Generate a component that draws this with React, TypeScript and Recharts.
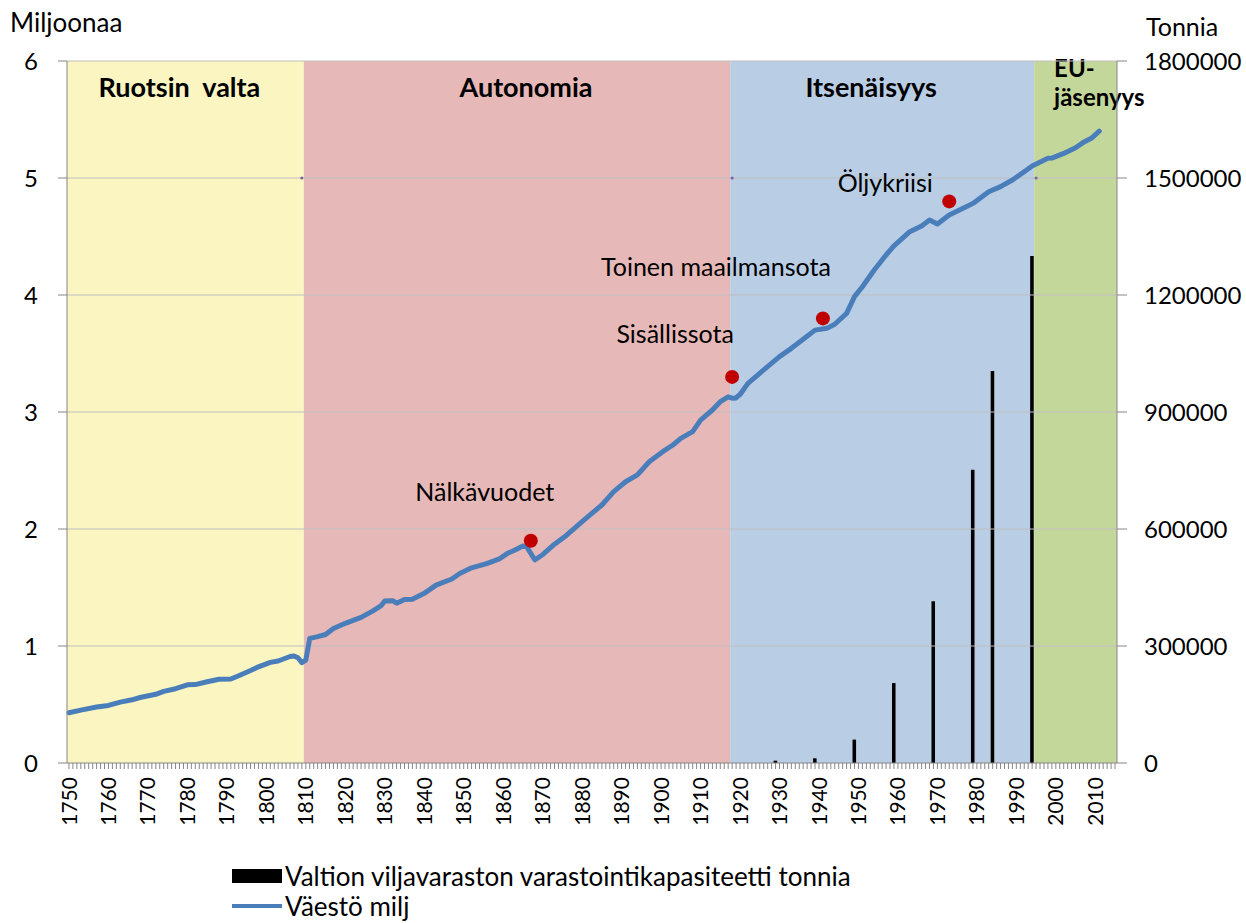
import {
  ComposedChart,
  XAxis,
  YAxis,
  Bar,
  Line,
  ReferenceArea,
  ReferenceLine,
  LabelList,
  Legend,
} from "recharts";

const firstYear = 1750;
const lastYear = 2015;

// Väestö (milj.), luettu kuvasta
const popYears = [
  1750, 1753, 1757, 1760, 1763, 1766, 1768, 1772, 1774, 1777, 1780, 1782, 1785, 1788, 1791, 1793,
  1796, 1798, 1801, 1803, 1806, 1807, 1808, 1809, 1810, 1811, 1813, 1815, 1817, 1820, 1824, 1827,
  1829, 1830, 1832, 1833, 1835, 1837, 1840, 1843, 1847, 1849, 1852, 1856, 1859, 1861, 1863, 1865,
  1866, 1868, 1870, 1873, 1876, 1880, 1882, 1885, 1888, 1891, 1894, 1897, 1901, 1903, 1905, 1908,
  1910, 1913, 1915, 1917, 1918, 1919, 1920, 1922, 1926, 1930, 1933, 1936, 1939, 1942, 1944, 1947,
  1949, 1951, 1954, 1957, 1959, 1963, 1966, 1968, 1970, 1973, 1976, 1979, 1983, 1986, 1989, 1992,
  1994, 1998, 1999, 2002, 2005, 2007, 2009, 2011,
];
const popValues = [
  0.43, 0.452, 0.478, 0.492, 0.52, 0.54, 0.56, 0.587, 0.612, 0.635, 0.668, 0.67, 0.694, 0.716, 0.718, 0.746,
  0.79, 0.822, 0.86, 0.872, 0.91, 0.915, 0.9, 0.858, 0.88, 1.065, 1.08, 1.098, 1.15, 1.194, 1.245, 1.3,
  1.342, 1.385, 1.387, 1.366, 1.398, 1.4, 1.45, 1.52, 1.573, 1.62, 1.668, 1.707, 1.744, 1.79, 1.82, 1.855,
  1.845, 1.737, 1.78, 1.87, 1.945, 2.063, 2.12, 2.205, 2.32, 2.404, 2.462, 2.575, 2.675, 2.718, 2.775, 2.832,
  2.93, 3.017, 3.088, 3.13, 3.118, 3.12, 3.15, 3.245, 3.36, 3.473, 3.544, 3.621, 3.7, 3.715, 3.75, 3.843,
  3.986, 4.071, 4.214, 4.342, 4.419, 4.541, 4.59, 4.641, 4.607, 4.684, 4.732, 4.783, 4.883, 4.926, 4.983, 5.054,
  5.103, 5.168, 5.17, 5.21, 5.259, 5.305, 5.339, 5.4,
];

// Valtion viljavaraston varastointikapasiteetti (tonnia)
const grainYears = [1929, 1939, 1949, 1959, 1969, 1979, 1984, 1994];
const grainTonnes = [6000, 12000, 60000, 205000, 415000, 752000, 1005000, 1300000];

const eventYears = [1867, 1918, 1941, 1973];
const eventValues = [1.9, 3.3, 3.8, 4.8];
const eventNames = ["Nälkävuodet", "Sisällissota", "Toinen maailmansota", "Öljykriisi"];

const periodNames = ["Ruotsin  valta", "Autonomia", "Itsenäisyys", "EU-jäsenyys"];
const periodStart = [1750, 1810, 1918, 1995];
const periodEnd = [1809, 1917, 1994, 2015];
const periodColors = ["#FAF5C1", "#E6B8B7", "#B9CDE5", "#C4D79B"];

const borderYears = [1809, 1918, 1995];
const borderValue = 5;

const leftTicks = [0, 1, 2, 3, 4, 5, 6];
const rightTicks = [0, 300000, 600000, 900000, 1200000, 1500000, 1800000];

const years = Array.from({ length: lastYear - firstYear + 1 }, (_, i) => firstYear + i);

const data = years.map((year) => {
  const p = popYears.indexOf(year);
  const g = grainYears.indexOf(year);
  const e = eventYears.indexOf(year);
  return {
    year,
    pop: p >= 0 ? popValues[p] : null,
    grain: g >= 0 ? grainTonnes[g] : null,
    event: e >= 0 ? eventValues[e] : null,
    eventName: e >= 0 ? eventNames[e] : null,
    border: borderYears.includes(year) ? borderValue : null,
  };
});

const FONT = "Lato, 'Open Sans', sans-serif";
const AXIS = "#868686";
const GRID = "#BFBFBF";
const BLUE = "#4A7EBB";

// tekstien siirrot pisteestä / vyöhykkeen keskeltä
const eventShift: Record<string, [number, number]> = {
  "Nälkävuodet": [-46, -50],
  "Sisällissota": [-57, -44],
  "Toinen maailmansota": [-107, -52],
  "Öljykriisi": [-64, -19],
};
const periodShift = [-6, 9, -11, 0];

function YearTick(props: any) {
  const { x, y, payload } = props;
  if (payload.value % 10 !== 0) return <g />;
  return (
    <text
      x={x}
      y={y}
      transform={`rotate(-90, ${x}, ${y})`}
      textAnchor="end"
      dy="0.36em"
      fontSize={21}
      fill="#000"
    >
      {payload.value}
    </text>
  );
}

function EventLabel(props: any) {
  const { value } = props;
  if (value == null) return null;
  const x = props.x ?? props.viewBox?.x;
  const y = props.y ?? props.viewBox?.y;
  const [dx, dy] = eventShift[value] || [0, -20];
  return (
    <text x={x + dx} y={y + dy} textAnchor="middle" dominantBaseline="central" fontSize={25} fill="#000">
      {value}
    </text>
  );
}

function periodLabel(i: number) {
  return (props: any) => {
    const vb = props.viewBox;
    if (i === 3) {
      const [first, second] = periodNames[i].split("-");
      return (
        <g>
          <text x={vb.x + 20} y={vb.y + 16} fontSize={24} fontWeight="bold" fill="#000">
            {first}-
          </text>
          <text x={vb.x + 20} y={vb.y + 45} fontSize={24} fontWeight="bold" fill="#000">
            {second}
          </text>
        </g>
      );
    }
    return (
      <text
        x={vb.x + vb.width / 2 + periodShift[i]}
        y={vb.y + 36}
        textAnchor="middle"
        fontSize={27}
        fontWeight="bold"
        fill="#000"
        style={{ whiteSpace: "pre" }}
      >
        {periodNames[i]}
      </text>
    );
  };
}

function LegendBox() {
  return (
    <div style={{ fontFamily: FONT, fontSize: 26, color: "#000", lineHeight: "30px" }}>
      <div style={{ display: "flex", alignItems: "center" }}>
        <span style={{ display: "inline-block", width: 50, height: 14, background: "#000", marginRight: 3 }} />
        <span>Valtion viljavaraston varastointikapasiteetti tonnia</span>
      </div>
      <div style={{ display: "flex", alignItems: "center" }}>
        <span style={{ display: "inline-block", width: 50, height: 4, background: BLUE, marginRight: 3 }} />
        <span>Väestö milj</span>
      </div>
    </div>
  );
}

export default function App() {
  return (
    <div style={{ position: "absolute", left: 0, top: 0, fontFamily: FONT }}>
      <ComposedChart
        width={1246}
        height={923}
        data={data}
        margin={{ top: 61, right: 0, bottom: 100, left: 0 }}
      >
        <XAxis
          dataKey="year"
          interval={0}
          height={60}
          tickSize={6}
          tickMargin={8}
          stroke={AXIS}
          tick={<YearTick />}
        />
        <YAxis
          yAxisId="left"
          domain={[0, 6]}
          ticks={leftTicks}
          interval={0}
          width={67}
          tickSize={9}
          tickMargin={20}
          stroke={AXIS}
          tick={{ fill: "#000", fontSize: 24 }}
          label={(p: any) => (
            <text x={10} y={p.viewBox.y - 29} fontSize={26} fill="#000">
              Miljoonaa
            </text>
          )}
        />
        <YAxis
          yAxisId="right"
          orientation="right"
          domain={[0, 1800000]}
          ticks={rightTicks}
          interval={0}
          width={129}
          tickSize={10}
          tickMargin={17}
          stroke={AXIS}
          tick={{ fill: "#000", fontSize: 24 }}
          label={(p: any) => (
            <text x={p.viewBox.x + 29} y={p.viewBox.y - 25} fontSize={25} fill="#000">
              Tonnia
            </text>
          )}
        />

        {periodNames.map((name, i) => (
          <ReferenceArea
            key={name}
            yAxisId="left"
            x1={periodStart[i]}
            x2={periodEnd[i]}
            y1={0}
            y2={6}
            fill={periodColors[i]}
            fillOpacity={1}
            stroke="none"
            label={periodLabel(i)}
          />
        ))}
        {[1, 2, 3, 4, 5, 6].map((v) => (
          <ReferenceLine key={v} yAxisId="left" y={v} stroke={GRID} strokeWidth={1} />
        ))}

        <Bar yAxisId="right" dataKey="grain" fill="#000" barSize={4} isAnimationActive={false} />
        <Line
          yAxisId="left"
          dataKey="border"
          stroke="none"
          dot={{ r: 1.6, fill: "#8064A2", stroke: "none" }}
          isAnimationActive={false}
        />
        <Line
          yAxisId="left"
          type="linear"
          dataKey="pop"
          stroke={BLUE}
          strokeWidth={5}
          strokeLinejoin="round"
          strokeLinecap="round"
          dot={false}
          connectNulls
          isAnimationActive={false}
        />
        <Line
          yAxisId="left"
          dataKey="event"
          stroke="none"
          dot={{ r: 7, fill: "#C00000", stroke: "none" }}
          isAnimationActive={false}
        >
          <LabelList dataKey="eventName" content={<EventLabel />} />
        </Line>

        <Legend
          layout="horizontal"
          verticalAlign="middle"
          align="center"
          wrapperStyle={{ left: 232, top: 861, width: 760 }}
          content={() => <LegendBox />}
        />
      </ComposedChart>
    </div>
  );
}
